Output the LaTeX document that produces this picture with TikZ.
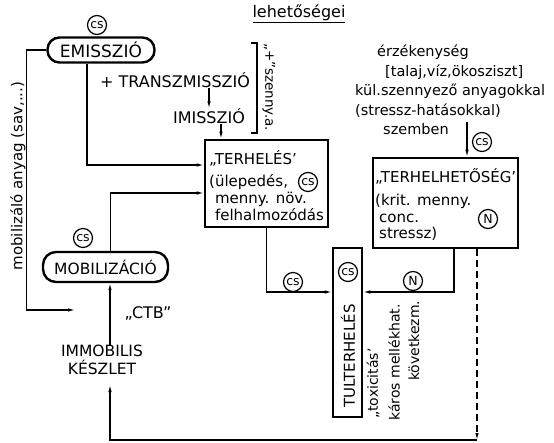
\documentclass[tikz,border=0pt]{standalone}
\usepackage{fontspec}
\setmainfont{DejaVu Sans}
\usetikzlibrary{arrows.meta, positioning}
\tikzset{>=latex}
\tikzset{
  oval/.style={rectangle, rounded corners=12pt, draw, line width=2.4pt, minimum height=25pt, inner xsep=0pt},
  framebox/.style={rectangle, draw, line width=2.6pt},
  tag/.style={circle, draw, line width=1.2pt, inner sep=0pt, minimum size=19pt, font=\fontsize{12.5}{12.5}\selectfont},
  arr/.style={line width=1.1pt, -{Latex[length=7pt,width=3.5pt]}},
  wire/.style={line width=1.1pt},
  plain/.style={inner sep=0pt}
}

\begin{document}
\begin{tikzpicture}[x=1pt, y=-1pt, font=\fontsize{15.5}{18}\selectfont]
	\useasboundingbox (0,0) rectangle (554,442);
	% Title and source side:
	\node[plain, font=\fontsize{16}{18}\selectfont] (title) at (299,14) {\underline{lehetőségei}};
	\node[oval, minimum width=107pt, font=\fontsize{17}{18}\selectfont] (emi) at (101,50) {EMISSZIÓ};
	\node[tag] (emics) at (97,25) {cs};
	\node[plain, font=\fontsize{16}{18}\selectfont] (trans) at (175,80) {+ TRANSZMISSZIÓ};
	\node[plain, font=\fontsize{16}{18}\selectfont] (imi) at (209,116) {IMISSZIÓ};
	\node[plain, rotate=-90, font=\fontsize{13.5}{15}\selectfont] (szenny) at (269,87) {„+”szenny.a.};
	\draw[wire] (251,43) -- (257,43) -- (257,133) -- (251,133);
	% Boxes:
	\node[framebox, minimum width=123pt, minimum height=87pt] (terh) at (266.5,183.5) {};
	\node[plain, align=left, anchor=north west, font=\fontsize{15}{17}\selectfont] (terhtxt) at (209,150) {„TERHELÉS’\\[5pt](ülepedés,\\\phantom{(}menny. növ.\\\phantom{(}felhalmozódás};
	\node[tag] (terhcs) at (308,182) {cs};
	\node[plain, align=left, anchor=north west, font=\fontsize{14.5}{19.5}\selectfont] (erz) at (355,45) {\hspace*{22pt}érzékenység\\\hspace*{30pt}[talaj,víz,ökosziszt]\\kül.szennyező anyagokkal\\(stressz-hatásokkal)\\\hspace*{28pt}szemben};
	\coordinate (szarr) at (467,122);
	\node[tag] (szcs) at (482,142) {cs};
	\node[framebox, minimum width=145pt, minimum height=90pt] (terh2) at (445.5,203) {};
	\node[plain, align=left, anchor=north west, font=\fontsize{15}{16.5}\selectfont] (terh2txt) at (375,168) {„TERHELHETŐSÉG’\\[7pt](krit. menny.\\\hspace*{4pt}conc.\\\hspace*{4pt}stressz)};
	\node[tag] (terh2n) at (488,219) {N};
	\node[framebox, minimum width=29pt, minimum height=169pt] (tul) at (347.5,332.5) {};
	\node[plain, rotate=90, font=\fontsize{15}{17}\selectfont] (tultxt) at (348,356) {TULTERHELÉS};
	\node[tag] (tulcs) at (348,272) {cs};
	\node[plain, rotate=90, anchor=west, font=\fontsize{14}{16}\selectfont] (tox) at (373,419) {„toxicitás’};
	\node[plain, rotate=90, anchor=west, font=\fontsize{14}{16}\selectfont] (kar) at (394,421) {káros mellékhat.};
	\node[plain, rotate=90, anchor=west, font=\fontsize{14}{16}\selectfont] (kov) at (414,381) {következm.};
	\node[tag] (lcs) at (293,282) {cs};
	\node[tag] (rn) at (413,281) {N};
	% Mobilisation side:
	\node[plain, rotate=90, font=\fontsize{15}{17}\selectfont] (mobanyag) at (18,176) {mobilizáló anyag (sav,...)};
	\node[oval, minimum width=125pt, minimum height=30pt, rounded corners=13pt] (mob) at (105.5,267) {MOBILIZÁCIÓ};
	\node[tag] (mobcs) at (83,238) {cs};
	\node[plain, font=\fontsize{16}{18}\selectfont] (ctb) at (148,313) {„CTB”};
	\node[plain, align=center] (imm) at (102,360) {IMMOBILIS\\KÉSZLET};
	\coordinate (mobend) at (75,310);
	\coordinate (botr) at (477,440);
	% Connectors:
	\draw[arr] (trans.south -| imi.north) -- (imi.north);
	\draw[arr] ([xshift=12pt]imi.south) -- ([xshift=12pt]imi.south |- terh.north);
	\draw[arr] ([xshift=-14pt]emi.south) |- ([yshift=18.5pt]terh.west);
	\draw[arr] ([xshift=5pt]mob.north) |- ([yshift=-9.5pt]terh.west);
	\draw[arr] (emi.west) -- ++(-20,0) |- (mobend);
	\draw[arr] (szarr) -- (szarr |- terh2.north);
	\draw[arr] (terh.south) |- ([yshift=40.5pt]tul.west);
	\draw[arr] ([xshift=8.5pt]terh2.south) |- ([yshift=40.5pt]tul.east);
	\draw[arr] ([xshift=8pt]imm.north) -- ([xshift=8pt]imm.north |- mob.south);
	\draw[arr, dash pattern=on 7pt off 4pt] ([xshift=31.5pt]terh2.south) -- (botr);
	\draw[arr] (botr) -| ([xshift=8pt, yshift=-10pt]imm.south);
\end{tikzpicture}
\end{document}
